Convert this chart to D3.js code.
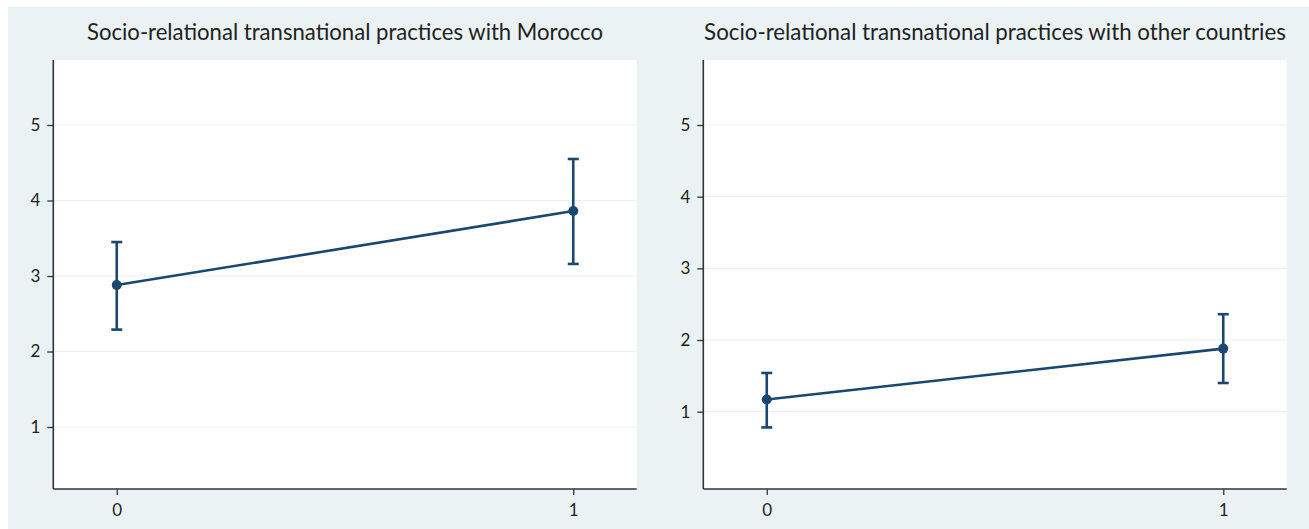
<!DOCTYPE html>
<html><head><meta charset="utf-8">
<script src="https://cdn.jsdelivr.net/npm/d3@7"></script>
<style>html,body{margin:0;padding:0;background:#fff;}svg{display:block;}</style>
</head><body>
<svg id="c" width="1309" height="529"></svg>
<script>
const categories = [0, 1];
const xTicks = [0, 1];
const yTicks = [1, 2, 3, 4, 5];
const titles = ["Socio-relational transnational practices with Morocco",
                "Socio-relational transnational practices with other countries"];
const moroccoMean = [2.88, 3.86];
const moroccoLow  = [2.29, 3.16];
const moroccoHigh = [3.45, 4.55];
const otherMean = [1.17, 1.88];
const otherLow  = [0.78, 1.40];
const otherHigh = [1.54, 2.36];

(function(){
const panels = [
  {title: titles[0], mean: moroccoMean, low: moroccoLow, high: moroccoHigh, left: 53.3, yDomain: [0.179, 5.861], tw: 516},
  {title: titles[1], mean: otherMean, low: otherLow, high: otherHigh, left: 703.3, yDomain: [-0.079, 5.907], tw: 582}
];

const svg = d3.select("#c");
const navy = "#1a476f", axisCol = "#333333", bg = "#eaf2f3";
const font = "Lato, 'Open Sans', sans-serif";
svg.append("rect").attr("x", 8).attr("y", 7).attr("width", 1301).attr("height", 522).attr("fill", bg);

const plotTop = 60, plotBottom = 489, plotW = 583.4;

panels.forEach(p => {
  const g = svg.append("g");
  const x = d3.scaleLinear().domain([-0.139, 1.139]).range([p.left, p.left + plotW]);
  const y = d3.scaleLinear().domain(p.yDomain).range([plotBottom, plotTop]);
  g.append("rect").attr("x", p.left).attr("y", plotTop).attr("width", plotW).attr("height", plotBottom - plotTop).attr("fill", "#fff");
  g.selectAll("line.grid").data(yTicks).join("line").attr("class", "grid")
    .attr("x1", p.left).attr("x2", p.left + plotW)
    .attr("y1", d => y(d)).attr("y2", d => y(d))
    .attr("stroke", bg).attr("stroke-width", 1.2);
  const ya = g.append("g").attr("transform", `translate(${p.left},0)`)
    .call(d3.axisLeft(y).tickValues(yTicks).tickSize(6).tickPadding(7).tickFormat(d3.format("d")));
  const xa = g.append("g").attr("transform", `translate(0,${plotBottom})`)
    .call(d3.axisBottom(x).tickValues(xTicks).tickSize(6).tickPadding(9).tickFormat(d3.format("d")));
  [ya, xa].forEach(a => {
    a.select(".domain").attr("stroke", axisCol).attr("stroke-width", 1.6);
    a.selectAll(".tick line").attr("stroke", axisCol).attr("stroke-width", 1.3);
    a.selectAll("text").attr("fill", "#222").style("font-family", font).style("font-size", "17px");
  });
  ya.select(".domain").attr("d", `M0,${plotTop}V${plotBottom}`);
  xa.select(".domain").attr("d", `M${p.left},0H${p.left + plotW}`);
  const pts = categories.map((c, i) => [x(c), y(p.mean[i])]);
  g.append("path").attr("d", d3.line()(pts)).attr("fill", "none").attr("stroke", navy).attr("stroke-width", 2.6);
  categories.forEach((c, i) => {
    const cx = x(c);
    g.append("line").attr("x1", cx).attr("x2", cx).attr("y1", y(p.low[i])).attr("y2", y(p.high[i]))
      .attr("stroke", navy).attr("stroke-width", 2.6);
    [p.low[i], p.high[i]].forEach(v => {
      g.append("line").attr("x1", cx - 5.5).attr("x2", cx + 5.5).attr("y1", y(v)).attr("y2", y(v))
        .attr("stroke", navy).attr("stroke-width", 2.6);
    });
    g.append("circle").attr("cx", cx).attr("cy", y(p.mean[i])).attr("r", 5).attr("fill", navy);
  });
  const t = g.append("text").attr("x", p.left + plotW / 2).attr("y", 40).attr("text-anchor", "middle")
    .attr("fill", "#222").style("font-family", font).style("font-size", "20px").text(p.title);
  const w = t.node().getComputedTextLength();
  if (w) t.style("font-size", (20 * p.tw / w).toFixed(2) + "px");
});
})();
</script>
</body></html>
